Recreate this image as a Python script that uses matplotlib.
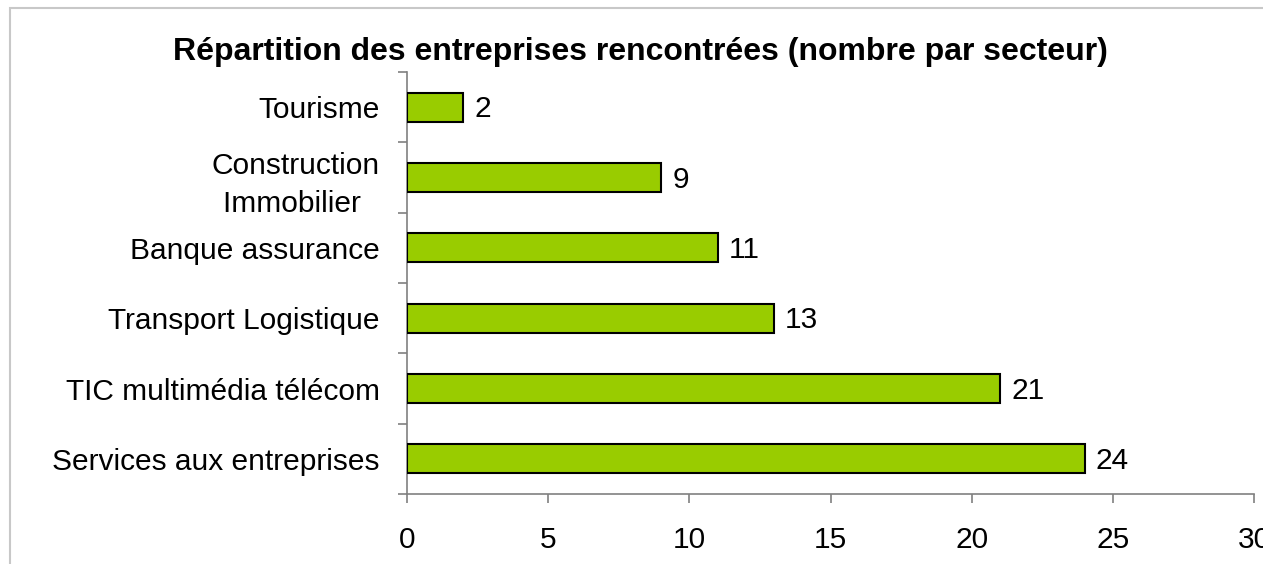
import matplotlib
matplotlib.use("Agg")
import matplotlib.pyplot as plt
from matplotlib.patches import Rectangle

categories = ["Services aux entreprises", "TIC multimédia télécom", "Transport Logistique",
              "Banque assurance", "Construction\nImmobilier ", "Tourisme"]
values = [24, 21, 13, 11, 9, 2]
x_ticks = [0, 5, 10, 15, 20, 25, 30]
title = "Répartition des entreprises rencontrées (nombre par secteur)"

plt.rcParams['font.family'] = ['Liberation Sans', 'DejaVu Sans']
W, H = 1263, 564
FS = 21.5
fig = plt.figure(figsize=(W/100, H/100), dpi=100)
fig.patches.append(Rectangle((10/W, -0.1), 1.2, 1 - 8/H + 0.1, transform=fig.transFigure,
                             fill=False, edgecolor='#c8c8c8', linewidth=1.5))
ax = fig.add_axes([407/W, 1 - 494/H, (1254 - 407)/W, (494 - 72)/H])

pos = list(range(len(categories)))
ax.barh(pos, values, height=0.41, color='#99CC00', edgecolor='black', linewidth=1.5, zorder=3)
for p, v in zip(pos, values):
    ax.annotate(str(v), (v, p), xytext=(8, -1.5), textcoords='offset points',
                va='center', ha='left', fontsize=FS)

ax.set_xlim(0, 30)
ax.set_ylim(-0.5, len(categories) - 0.5)
ax.set_xticks(x_ticks)
ax.set_xticklabels([str(t) for t in x_ticks], fontsize=FS)
ax.set_yticks([i - 0.5 for i in range(len(categories) + 1)])
ax.set_yticklabels([])
ax.set_yticks(pos, minor=True)
ax.set_yticklabels(categories, minor=True, fontsize=FS, multialignment='center', linespacing=1.45)
ax.tick_params(axis='y', which='minor', length=0, pad=19.5)
ax.tick_params(axis='y', which='major', length=6.5, color='#808080', width=1.2)
ax.tick_params(axis='x', length=6.5, color='#808080', width=1.2, pad=16.5)
for s in ['top', 'right']:
    ax.spines[s].set_visible(False)
for s in ['left', 'bottom']:
    ax.spines[s].set_color('#808080')
    ax.spines[s].set_linewidth(1.2)
for lbl in ax.get_xticklabels():
    lbl.set_clip_on(False)

fig.text(640/W, 1 - 52/H, title, ha='center', va='center', fontsize=23, fontweight='bold')
fig.savefig("out.png", dpi=100)
